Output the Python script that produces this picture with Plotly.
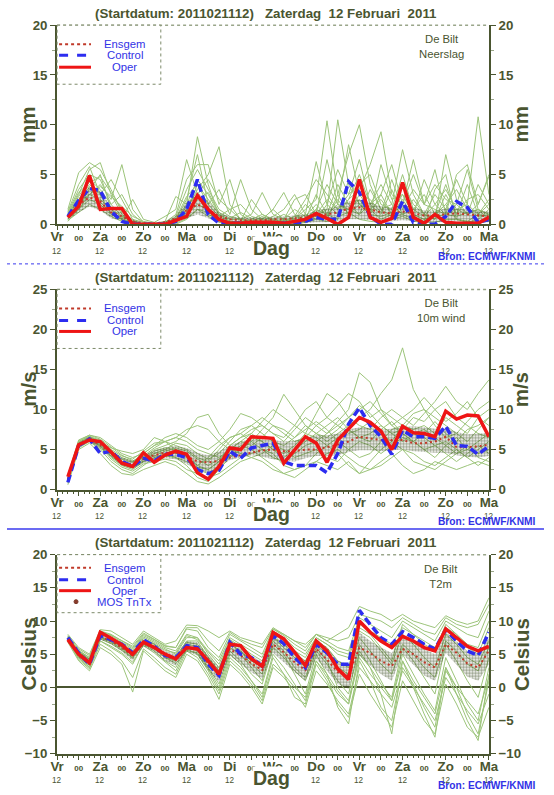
import plotly.graph_objects as go

# ---------------- data ----------------
hours = list(range(6, 241, 6))          # forecast step (h) after Vr 12 UTC
tick_hours = list(range(0, 241, 12))
days = ["Vr", "Za", "Zo", "Ma", "Di", "Wo", "Do", "Vr", "Za", "Zo", "Ma"]

# Precipitation (mm / 6h)
rr_oper = [0.7, 1.8, 4.9, 1.5, 1.6, 1.6, 0.0, 0.0, 0.0, 0.0, 0.4, 0.8, 2.9, 1.5, 0.5, 0.1, 0.1, 0.2, 0.2, 0.2,
           0.1, 0.3, 0.5, 1.1, 0.6, 0.0, 0.7, 4.5, 0.7, 0.2, 0.6, 4.2, 0.7, 0.1, 1.0, 0.2, 0.1, 0.1, 0.1, 0.7]
rr_ctrl = [0.8, 2.4, 3.6, 3.4, 1.3, 0.3, 0.0, 0.0, 0.0, 0.0, 0.3, 1.5, 4.5, 1.0, 0.1, 0.1, 0.1, 0.1, 0.1, 0.1,
           0.1, 0.1, 0.3, 0.7, 0.5, 0.5, 4.3, 3.2, 0.8, 0.0, 0.0, 2.3, 0.2, 0.0, 0.0, 0.8, 2.3, 1.7, 0.2, 0.5]
rr_mean = [0.8, 2.0, 2.7, 2.3, 1.2, 0.8, 0.3, 0.1, 0.1, 0.2, 0.6, 1.4, 2.0, 1.5, 0.8, 0.5, 0.4, 0.4, 0.4, 0.5,
           0.5, 0.6, 0.7, 0.9, 1.0, 1.2, 1.6, 1.7, 1.5, 1.2, 1.1, 1.3, 1.1, 0.9, 0.9, 1.0, 1.1, 1.0, 0.9, 0.8]
rr_p25 = [0.5, 1.2, 1.8, 1.4, 0.6, 0.3, 0.05, 0.0, 0.0, 0.0, 0.2, 0.6, 1.0, 0.6, 0.2, 0.1, 0.05, 0.05, 0.05, 0.1,
          0.1, 0.1, 0.1, 0.2, 0.2, 0.3, 0.5, 0.5, 0.4, 0.3, 0.3, 0.4, 0.3, 0.2, 0.2, 0.2, 0.3, 0.2, 0.2, 0.2]
rr_p75 = [1.1, 2.6, 3.8, 3.3, 1.8, 1.2, 0.5, 0.1, 0.1, 0.3, 0.9, 2.2, 3.2, 2.3, 1.2, 0.8, 0.7, 0.7, 0.7, 0.8,
          0.8, 0.9, 1.0, 1.4, 1.6, 1.8, 2.3, 2.5, 2.2, 1.8, 1.7, 2.0, 1.7, 1.4, 1.4, 1.6, 1.6, 1.5, 1.4, 1.3]
rr_members = [
    [1.0, 3.0, 5.5, 6.2, 3.0, 1.0, 0.2, 0.0, 0.0, 0.1, 0.5, 2.0, 8.8, 4.0, 0.8, 0.3, 0.2, 0.5, 1.0, 0.4,
     0.2, 0.5, 1.5, 2.5, 10.4, 3.0, 1.0, 2.0, 1.5, 0.5, 1.0, 2.5, 0.8, 0.3, 1.0, 2.0, 0.5, 0.3, 1.0, 0.8],
    [0.5, 2.0, 3.0, 4.0, 2.5, 6.0, 1.5, 0.2, 0.0, 0.0, 0.3, 1.5, 3.5, 5.0, 7.8, 2.0, 0.5, 0.3, 0.5, 1.5,
     3.2, 1.0, 0.5, 0.8, 1.5, 10.5, 4.0, 2.0, 1.0, 3.0, 6.0, 2.0, 1.0, 4.5, 2.0, 1.0, 1.5, 2.0, 10.8, 3.0],
    [1.5, 5.2, 6.2, 5.5, 3.5, 1.2, 0.3, 0.0, 0.0, 0.2, 1.0, 4.5, 6.0, 6.0, 2.0, 4.5, 1.0, 0.3, 0.2, 0.3,
     0.5, 2.5, 3.0, 1.0, 0.5, 3.0, 7.0, 10.0, 4.0, 1.5, 2.0, 7.5, 3.0, 1.0, 0.5, 7.0, 2.5, 1.0, 1.5, 0.5],
    [0.3, 1.5, 2.5, 2.0, 1.0, 0.5, 0.1, 0.0, 0.0, 0.0, 0.2, 1.0, 2.0, 1.5, 0.5, 0.3, 0.1, 0.1, 0.2, 0.3,
     0.2, 0.3, 1.0, 6.3, 2.0, 1.0, 2.5, 3.5, 6.0, 9.3, 3.0, 2.0, 5.0, 2.0, 5.5, 1.0, 5.0, 6.0, 2.0, 4.8],
    [0.8, 2.5, 4.0, 3.0, 4.5, 2.5, 0.5, 0.2, 0.1, 0.3, 2.8, 2.0, 4.5, 3.0, 1.0, 0.5, 0.5, 1.0, 3.2, 1.0,
     0.5, 0.2, 0.5, 1.5, 4.0, 2.0, 1.5, 1.0, 2.0, 3.0, 1.0, 4.0, 2.0, 1.0, 0.5, 3.0, 1.0, 4.0, 1.0, 2.0],
    [1.2, 3.5, 5.0, 4.5, 2.0, 0.8, 0.2, 0.0, 0.0, 0.0, 0.5, 2.5, 7.0, 2.0, 3.5, 1.0, 4.5, 1.5, 0.5, 0.2,
     0.1, 0.1, 0.3, 0.5, 2.0, 5.5, 3.0, 6.5, 2.0, 1.0, 3.5, 1.0, 0.5, 0.2, 3.5, 5.0, 0.5, 0.2, 0.5, 1.5],
    [0.6, 1.8, 3.5, 5.0, 1.5, 0.5, 2.5, 0.5, 0.2, 0.8, 1.5, 6.5, 3.0, 1.0, 0.5, 0.2, 0.3, 2.5, 1.0, 0.5,
     0.3, 0.8, 0.5, 3.0, 1.0, 0.5, 4.5, 2.0, 1.0, 6.0, 2.5, 3.0, 1.0, 0.5, 1.0, 2.0, 3.5, 1.5, 0.8, 1.0],
    [0.4, 1.2, 2.0, 1.5, 0.8, 0.3, 0.0, 0.0, 0.0, 0.0, 0.0, 0.5, 1.5, 0.8, 0.2, 0.0, 0.0, 0.0, 0.0, 0.0,
     0.0, 0.0, 0.2, 0.5, 0.3, 0.8, 1.2, 0.5, 0.3, 0.2, 0.5, 0.8, 0.3, 0.2, 0.2, 0.5, 0.5, 0.3, 0.2, 0.3],
    [0.9, 2.8, 4.5, 3.5, 2.0, 3.0, 1.0, 0.1, 0.0, 0.0, 0.8, 3.5, 5.5, 3.5, 1.5, 0.8, 0.5, 0.3, 0.2, 0.5,
     1.0, 0.5, 2.0, 1.0, 2.5, 1.5, 3.0, 4.0, 5.0, 2.0, 1.5, 5.0, 1.5, 3.0, 1.0, 4.0, 1.0, 2.5, 3.0, 1.5],
    [0.7, 2.2, 3.0, 2.5, 1.5, 0.8, 0.3, 0.0, 0.0, 0.1, 0.4, 1.8, 3.0, 4.5, 2.5, 1.5, 2.0, 0.8, 0.5, 1.5,
     0.5, 1.5, 0.8, 2.0, 0.8, 2.5, 1.0, 3.0, 2.5, 1.2, 4.5, 1.5, 3.5, 2.0, 4.0, 2.5, 2.0, 1.0, 2.0, 5.0],
    [1.3, 4.0, 5.8, 3.0, 1.0, 0.5, 0.2, 0.0, 0.0, 0.0, 0.2, 1.2, 4.0, 2.5, 1.0, 0.3, 0.1, 0.2, 0.8, 0.3,
     0.2, 0.5, 0.3, 1.0, 6.5, 2.0, 8.0, 3.0, 1.5, 2.5, 1.0, 2.0, 6.5, 2.0, 1.5, 1.0, 2.0, 5.5, 1.5, 1.0],
    [0.5, 1.5, 3.0, 3.8, 2.8, 1.8, 0.8, 0.3, 0.1, 0.2, 0.6, 2.8, 4.0, 2.0, 0.8, 1.5, 0.5, 0.2, 0.3, 0.8,
     1.5, 3.0, 1.0, 0.5, 1.0, 4.0, 2.0, 1.0, 3.5, 1.5, 0.8, 1.0, 2.5, 1.0, 3.0, 1.5, 4.5, 2.0, 1.0, 2.5],
    [1.1, 3.2, 4.2, 4.8, 3.2, 1.5, 0.4, 0.0, 0.0, 0.0, 0.3, 1.0, 2.5, 3.2, 1.2, 0.6, 1.2, 0.6, 0.2, 0.2,
     0.2, 0.8, 2.5, 4.5, 3.0, 1.5, 2.5, 5.0, 2.0, 4.0, 2.0, 1.0, 1.5, 0.8, 2.0, 3.5, 1.5, 1.0, 4.0, 2.0],
    [0.8, 2.0, 3.8, 2.2, 1.2, 0.6, 0.1, 0.0, 0.0, 0.0, 0.1, 0.6, 1.5, 1.2, 0.5, 0.2, 0.2, 0.4, 0.6, 0.2,
     0.4, 0.2, 0.6, 1.5, 1.0, 2.0, 1.5, 2.5, 1.0, 0.8, 1.2, 3.0, 1.0, 0.5, 0.8, 1.0, 0.8, 1.2, 1.5, 1.0],
]

# 10 m wind (m/s)
ff_oper = [1.6, 5.6, 6.2, 6.0, 4.7, 3.3, 2.9, 4.6, 3.4, 4.3, 4.8, 4.4, 2.1, 1.3, 2.9, 5.2, 5.0, 6.6, 6.5, 6.4,
           3.3, 5.0, 6.6, 5.8, 3.4, 6.2, 7.6, 9.0, 8.4, 7.3, 5.0, 7.9, 7.1, 7.0, 6.6, 9.8, 8.8, 9.3, 9.2, 6.6]
ff_ctrl = [0.9, 5.5, 6.3, 4.5, 4.8, 3.5, 2.9, 3.9, 3.6, 4.4, 4.4, 4.0, 2.5, 2.0, 2.4, 4.8, 3.9, 5.2, 5.5, 5.8,
           3.5, 3.0, 3.0, 3.0, 2.1, 4.5, 8.2, 10.2, 8.0, 6.6, 4.4, 7.4, 6.6, 6.6, 6.4, 7.9, 5.5, 5.4, 4.4, 5.4]
ff_mean = [1.3, 5.6, 6.3, 5.6, 4.5, 3.5, 3.1, 3.8, 4.3, 4.6, 4.6, 4.2, 3.5, 3.4, 3.6, 4.0, 4.3, 4.6, 4.9, 5.0,
           4.8, 4.8, 5.0, 5.0, 5.3, 5.6, 6.0, 6.6, 6.4, 6.2, 6.2, 6.2, 5.8, 5.8, 6.0, 6.6, 5.3, 5.3, 5.4, 5.6]
ff_p25 = [1.0, 5.3, 6.0, 5.2, 4.1, 3.0, 2.6, 3.3, 3.7, 3.9, 3.8, 3.2, 2.4, 2.1, 2.8, 3.7, 4.0, 4.3, 4.1, 3.8,
          3.6, 3.5, 3.9, 4.2, 4.2, 4.3, 4.7, 4.9, 4.9, 4.8, 4.9, 5.0, 4.8, 4.7, 4.6, 4.6, 4.3, 4.1, 4.0, 4.2]
ff_p75 = [1.6, 5.9, 6.6, 6.0, 4.9, 4.0, 3.6, 4.3, 4.9, 5.3, 5.4, 5.2, 4.6, 4.3, 4.8, 5.5, 6.0, 6.3, 6.3, 6.2,
          6.0, 6.1, 6.5, 6.8, 6.8, 7.0, 7.5, 7.8, 7.7, 7.5, 7.6, 7.8, 7.9, 7.8, 7.6, 7.6, 7.2, 6.9, 7.0, 7.1]
ff_members = [
    [1.2, 5.8, 6.6, 6.0, 4.5, 3.5, 3.0, 4.0, 5.0, 5.5, 6.0, 7.0, 9.0, 9.4, 7.0, 5.5, 6.5, 7.5, 8.0, 7.0,
     6.0, 7.5, 9.0, 8.0, 7.0, 8.5, 10.0, 14.6, 13.4, 10.0, 9.0, 8.0, 7.5, 8.0, 7.0, 9.0, 8.0, 7.0, 9.0, 8.0],
    [0.8, 5.2, 6.0, 5.0, 3.5, 2.5, 2.0, 3.0, 4.0, 4.5, 4.0, 3.0, 1.5, 1.0, 2.5, 4.0, 5.0, 6.0, 7.5, 9.0,
     11.9, 10.0, 8.0, 7.0, 6.0, 7.0, 8.0, 9.0, 10.0, 12.0, 13.7, 17.7, 12.5, 10.0, 9.0, 8.0, 7.0, 6.0, 7.5, 9.0],
    [1.8, 6.2, 6.8, 6.5, 5.5, 4.5, 4.0, 4.5, 5.5, 6.0, 5.5, 5.0, 4.0, 3.5, 5.0, 6.5, 7.0, 6.0, 5.0, 4.0,
     3.5, 4.5, 5.5, 6.0, 7.0, 8.0, 9.0, 8.0, 7.5, 9.0, 10.0, 9.0, 8.0, 9.5, 11.0, 12.9, 11.0, 10.0, 12.0, 13.7],
    [1.0, 5.5, 6.3, 5.5, 4.0, 3.0, 2.5, 3.5, 4.5, 5.0, 4.5, 4.0, 3.0, 2.5, 3.5, 4.5, 5.5, 5.0, 4.0, 3.0,
     2.0, 1.5, 2.5, 3.5, 4.5, 5.0, 4.0, 3.0, 2.5, 3.0, 4.0, 5.0, 4.5, 3.5, 3.0, 4.0, 5.0, 4.0, 3.0, 4.0],
    [1.4, 5.8, 6.5, 5.8, 4.8, 4.0, 3.5, 4.5, 5.5, 6.5, 7.0, 6.5, 5.5, 5.0, 6.0, 7.5, 9.5, 9.0, 8.0, 7.0,
     6.5, 8.0, 10.0, 11.0, 9.0, 10.5, 12.0, 11.0, 9.0, 10.0, 8.0, 7.0, 6.0, 7.0, 8.5, 7.0, 6.0, 7.5, 8.0, 9.0],
    [0.6, 5.0, 5.8, 4.5, 3.0, 2.0, 1.8, 2.5, 3.0, 3.5, 3.0, 2.0, 1.0, 0.7, 1.5, 2.5, 3.5, 4.0, 3.5, 2.5,
     2.0, 2.5, 3.0, 3.5, 3.0, 2.5, 3.5, 2.0, 2.5, 3.5, 4.5, 3.0, 2.0, 2.5, 3.5, 3.0, 2.5, 3.0, 3.5, 3.0],
    [1.6, 6.0, 6.7, 6.0, 5.2, 4.8, 4.5, 5.0, 6.5, 6.0, 5.0, 4.5, 3.0, 4.0, 5.5, 6.5, 7.0, 8.0, 9.0, 8.0,
     7.0, 6.0, 6.5, 8.0, 9.0, 8.0, 7.0, 7.5, 8.5, 7.0, 6.0, 8.0, 9.5, 10.0, 8.0, 6.5, 7.0, 8.5, 10.0, 11.0],
    [1.1, 5.4, 6.1, 5.2, 4.2, 3.2, 2.8, 3.8, 4.8, 5.2, 5.0, 4.2, 2.5, 2.0, 3.0, 4.2, 5.0, 6.5, 6.0, 5.0,
     4.5, 5.5, 7.0, 6.5, 5.5, 6.5, 7.5, 6.5, 6.0, 7.5, 8.5, 7.0, 6.0, 5.0, 4.0, 5.5, 6.5, 5.0, 4.5, 5.0],
    [1.3, 5.6, 6.4, 5.8, 4.6, 3.8, 3.4, 4.2, 5.2, 6.0, 6.5, 6.0, 5.0, 4.5, 4.0, 5.0, 6.0, 7.0, 8.5, 10.0,
     9.0, 8.0, 7.0, 9.5, 12.0, 11.0, 9.0, 10.0, 11.0, 9.5, 8.0, 9.0, 10.0, 11.5, 10.0, 8.5, 9.5, 11.0, 9.0, 10.0],
    [0.9, 5.3, 6.2, 5.4, 3.8, 2.8, 2.3, 3.2, 3.5, 3.8, 3.5, 2.5, 2.0, 1.5, 2.0, 3.0, 4.0, 4.5, 5.0, 4.5,
     3.0, 2.5, 3.0, 4.5, 5.5, 4.5, 3.0, 2.0, 3.5, 5.0, 6.0, 5.0, 3.5, 3.0, 2.5, 3.5, 4.5, 5.5, 4.0, 3.5],
    [1.5, 5.9, 6.6, 6.2, 5.0, 4.2, 3.8, 4.8, 5.8, 6.0, 6.5, 7.5, 8.0, 7.5, 6.0, 5.0, 6.0, 5.5, 6.5, 8.0,
     7.5, 6.5, 8.0, 7.0, 6.5, 7.5, 9.0, 10.5, 9.5, 8.0, 7.0, 7.5, 9.0, 8.5, 10.0, 11.0, 9.0, 8.0, 7.0, 6.5],
    [1.2, 5.6, 6.3, 5.6, 4.4, 3.4, 2.9, 3.6, 4.2, 4.8, 5.2, 4.8, 3.8, 3.0, 3.8, 5.0, 4.5, 4.0, 4.5, 5.5,
     5.0, 4.0, 4.5, 5.0, 4.0, 3.5, 5.0, 6.0, 5.5, 4.5, 5.5, 6.5, 6.0, 5.0, 5.5, 6.0, 5.0, 4.0, 5.0, 6.0],
    [1.0, 5.4, 6.2, 5.4, 4.2, 3.1, 2.7, 3.5, 4.0, 4.2, 4.0, 3.5, 2.8, 2.5, 3.5, 5.5, 6.5, 7.0, 6.0, 5.0,
     4.0, 5.0, 6.0, 7.0, 8.0, 9.0, 7.5, 6.5, 7.0, 8.0, 7.0, 6.0, 7.0, 7.5, 6.5, 5.5, 4.5, 5.0, 6.0, 7.0],
    [1.7, 6.1, 6.8, 6.3, 5.3, 4.3, 3.6, 4.0, 4.5, 5.0, 5.8, 5.5, 4.5, 3.8, 4.5, 6.0, 7.5, 8.0, 7.0, 6.0,
     5.5, 6.5, 7.5, 8.5, 7.5, 6.0, 5.0, 4.0, 4.5, 6.0, 7.5, 8.0, 7.0, 6.5, 5.5, 4.5, 3.5, 4.5, 5.5, 4.5],
]

# 2 m temperature (Celsius)
tt_oper = [7.2, 5.0, 3.7, 8.3, 7.4, 6.4, 5.0, 6.8, 6.0, 5.0, 4.3, 6.0, 5.8, 4.0, 2.0, 6.5, 6.3, 4.3, 3.2, 8.3,
           7.3, 5.3, 3.3, 7.0, 5.5, 2.8, 1.2, 10.0, 8.3, 7.0, 6.0, 7.7, 7.0, 6.0, 5.5, 8.8, 7.5, 6.2, 5.5, 6.2]
tt_ctrl = [7.5, 5.2, 3.5, 7.8, 7.2, 6.5, 5.2, 7.2, 6.2, 4.8, 4.5, 6.3, 6.0, 3.5, 1.8, 6.8, 5.0, 4.5, 3.2, 7.8,
           6.6, 4.5, 3.0, 6.5, 5.2, 3.5, 3.5, 11.6, 9.5, 7.5, 6.5, 8.4, 7.5, 6.5, 5.8, 8.7, 7.0, 5.5, 4.8, 8.3]
tt_mean = [7.4, 5.0, 3.8, 7.6, 7.0, 6.0, 4.8, 6.8, 6.0, 4.8, 4.2, 6.2, 5.8, 3.6, 1.9, 5.8, 4.8, 3.6, 2.6, 6.5,
           5.3, 3.8, 2.6, 5.8, 4.2, 2.3, 1.8, 6.0, 5.2, 4.0, 3.2, 5.8, 5.0, 3.8, 3.0, 6.5, 5.2, 3.6, 3.0, 5.5]
tt_p25 = [7.1, 4.5, 3.2, 7.2, 6.5, 5.4, 4.0, 6.2, 5.3, 4.0, 3.3, 5.4, 4.8, 2.6, 0.8, 4.8, 3.5, 2.3, 1.3, 5.2,
          3.8, 2.3, 1.0, 4.3, 2.5, 0.5, -0.2, 4.8, 3.3, 2.0, 1.0, 5.0, 3.4, 1.8, 1.0, 5.2, 3.4, 1.6, 1.0, 3.5]
tt_p75 = [7.7, 5.5, 4.3, 8.0, 7.5, 6.5, 5.5, 7.3, 6.6, 5.5, 5.0, 7.0, 6.8, 4.8, 3.0, 6.8, 6.0, 4.8, 3.8, 7.8,
          6.8, 5.3, 4.0, 7.3, 6.0, 4.0, 3.5, 8.3, 7.0, 6.0, 5.2, 8.0, 7.0, 5.8, 5.0, 8.3, 7.0, 5.5, 5.0, 7.5]
tt_members = [
    [8.0, 6.0, 5.0, 8.7, 8.5, 7.5, 6.5, 8.5, 7.5, 6.5, 7.0, 9.4, 9.3, 8.5, 7.5, 8.5, 7.5, 7.0, 6.5, 9.0,
     8.0, 7.0, 6.5, 8.0, 7.0, 8.0, 9.0, 12.2, 11.5, 11.0, 10.0, 11.0, 10.0, 9.5, 9.0, 10.8, 10.0, 9.5, 10.0, 13.5],
    [6.8, 4.0, 2.5, 6.0, 5.0, 3.5, -0.7, 5.5, 4.0, 2.5, 1.5, 5.0, 4.0, 1.5, -1.8, 3.5, 2.0, 0.0, -2.5, 3.0,
     1.5, -0.5, -3.0, 2.5, 0.5, -2.0, -4.0, 3.0, 1.0, -1.0, -3.0, 2.5, 0.0, -2.5, -5.0, 1.5, -1.0, -3.5, -5.5, -1.0],
    [7.3, 5.5, 4.5, 8.2, 7.8, 6.8, 5.8, 7.8, 7.0, 6.0, 5.5, 8.0, 7.5, 5.5, 4.0, 7.5, 6.5, 5.5, 4.5, 8.5,
     7.5, 6.0, 5.0, 7.5, 6.5, 5.0, 4.5, 9.0, 8.0, 6.0, 4.0, 9.5, 8.0, 6.5, 5.5, 9.5, 8.0, 6.0, 5.0, 9.0],
    [7.0, 4.5, 3.0, 7.0, 6.0, 5.0, 3.5, 6.5, 5.5, 4.0, 3.0, 6.0, 5.5, 3.0, 0.5, 5.5, 4.0, 2.0, 0.5, 6.0,
     4.5, 2.5, 1.0, 5.5, 3.5, 1.0, -1.0, 6.5, 4.0, 1.0, -2.0, 5.0, 2.0, -1.0, -3.5, 4.5, 1.0, -2.5, -5.0, 3.0],
    [7.6, 5.2, 4.0, 7.5, 6.8, 5.8, 4.5, 7.0, 6.5, 5.0, 4.5, 7.0, 7.0, 4.5, 2.5, 6.5, 5.5, 3.5, 2.0, 7.0,
     5.5, 3.0, 1.5, 6.0, 4.0, 0.0, -2.0, 5.0, 3.0, -1.0, -7.0, 4.0, 0.0, -4.0, -7.5, 3.0, -1.0, -5.0, -8.0, 2.0],
    [7.4, 4.8, 3.5, 7.5, 7.0, 6.2, 5.0, 7.0, 6.0, 4.5, 4.0, 6.5, 6.2, 4.0, 1.5, 6.0, 5.0, 3.0, 1.0, 6.5,
     5.0, 2.0, -1.0, 5.0, 2.0, -3.0, -5.5, 4.0, 1.0, -3.0, -5.0, 3.0, 0.5, -3.0, -6.0, 2.5, 0.0, -4.0, -7.0, 1.0],
    [7.8, 5.8, 4.8, 8.5, 8.0, 7.0, 6.0, 8.0, 7.2, 6.2, 6.0, 8.8, 8.5, 6.0, 4.5, 8.0, 7.0, 6.0, 5.0, 8.8,
     7.8, 6.5, 5.5, 8.0, 7.0, 6.0, 5.5, 10.5, 9.5, 8.5, 7.5, 10.0, 9.0, 8.0, 7.0, 10.0, 9.0, 8.0, 7.5, 11.5],
    [7.2, 4.6, 3.3, 7.3, 6.6, 5.6, 4.4, 6.6, 5.8, 4.5, 3.6, 5.6, 5.2, 2.8, 0.0, 5.0, 3.5, 1.0, -1.0, 5.0,
     3.0, 0.5, -2.0, 4.0, 1.5, -1.0, -2.5, 5.5, 3.0, 0.5, -1.5, 6.0, 4.0, 1.5, -1.0, 6.5, 4.0, 1.0, -1.5, 4.5],
    [7.5, 5.3, 4.2, 8.0, 7.6, 6.6, 5.6, 7.6, 6.8, 5.8, 5.0, 7.5, 7.5, 5.0, 3.0, 7.0, 6.0, 4.5, 3.0, 7.5,
     6.5, 5.0, 4.0, 7.0, 6.0, 4.0, 3.0, 8.5, 7.5, 5.5, 3.5, 8.0, 6.5, 4.5, 3.0, 8.0, 6.5, 4.5, 3.5, 7.0],
    [7.1, 4.4, 3.0, 7.0, 6.2, 5.2, 3.8, 6.3, 5.2, 3.8, 2.5, 5.8, 5.0, 2.5, -0.5, 4.5, 3.0, 1.0, -1.5, 4.5,
     2.0, -1.5, -2.5, 3.5, 1.0, -2.5, -4.5, 2.0, -1.0, -3.5, -6.0, 1.0, -2.0, -5.0, -7.0, 0.5, -2.5, -6.0, -7.5, -3.0],
    [7.7, 5.6, 4.5, 8.4, 7.9, 7.0, 6.2, 8.2, 7.3, 6.3, 6.0, 9.0, 9.0, 7.0, 5.5, 8.3, 7.2, 6.5, 6.0, 8.8,
     8.0, 7.0, 6.0, 8.0, 7.5, 7.0, 7.5, 11.0, 10.5, 10.0, 9.0, 10.5, 9.5, 8.5, 8.0, 10.5, 9.5, 9.0, 9.5, 12.5],
    [7.3, 5.0, 3.6, 7.6, 7.0, 6.0, 4.7, 6.9, 6.2, 4.9, 4.2, 6.8, 6.5, 4.5, 2.5, 6.5, 5.5, 4.0, 3.0, 7.5,
     6.0, 4.5, 3.0, 6.5, 5.0, 3.0, 2.0, 7.5, 5.5, 3.5, 2.0, 6.5, 5.0, 3.0, 1.5, 7.0, 5.5, 3.5, 2.5, 6.0],
    [7.0, 4.2, 2.8, 6.5, 5.5, 4.0, 1.5, 5.8, 4.5, 3.0, 2.0, 5.5, 4.5, 2.0, -1.0, 4.0, 2.5, 0.5, -2.0, 3.5,
     2.0, 0.0, -1.5, 4.0, 2.0, -0.5, -2.5, 4.5, 2.0, 0.0, -2.0, 4.0, 1.0, -1.5, -4.0, 3.0, 0.0, -2.0, -4.0, 1.5],
    [7.6, 5.4, 4.3, 8.1, 7.5, 6.3, 5.3, 7.4, 6.6, 5.6, 5.2, 7.8, 7.2, 5.3, 3.5, 7.2, 6.2, 5.0, 4.0, 8.0,
     7.0, 5.5, 4.5, 7.5, 6.5, 5.5, 5.0, 9.5, 8.5, 7.5, 6.5, 9.0, 8.0, 7.0, 6.0, 9.0, 8.0, 6.5, 6.0, 10.0],
]

# ---------------- style ----------------
# The viewer shows the page inside an 8 px frame and shrinks the result to the
# window size; positions below are reference pixels, converted by px()/py().
W, H = 554, 795
OFF = 8
SX = W / (W + 2 * OFF)
SY = H / (H + 2 * OFF)
FSC = 1 / ((SX + SY) / 2)   # font compensation
XL, XR = 58, 491
OLIVE = "#4a5530"
GREEN = "#9cc47a"
DARK = "#2a3c10"
RED = "#ee1515"
BLUE = "#2d2df0"
MEANC = "#c03a2a"
TXTBLUE = "#3232e6"
FONT = "Liberation Sans"


def px(x):
    return (x / SX - OFF) / W


def py(y):
    return 1 - (y / SY - OFF) / H


def fs(s):
    return round(s * FSC, 1)


panels = [
    dict(top=26, bot=225, rng=[0, 20], dt=5, unit="mm", label="Neerslag",
         oper=rr_oper, ctrl=rr_ctrl, mean=rr_mean, p25=rr_p25, p75=rr_p75, mem=rr_members, mos=False,
         leg=[45, 56, 68], box=59),
    dict(top=290, bot=490, rng=[0, 25], dt=5, unit="m/s", label="10m wind",
         oper=ff_oper, ctrl=ff_ctrl, mean=ff_mean, p25=ff_p25, p75=ff_p75, mem=ff_members, mos=False,
         leg=[309, 321, 332], box=59),
    dict(top=555, bot=754, rng=[-10, 20], dt=5, unit="Celsius", label="T2m",
         oper=tt_oper, ctrl=tt_ctrl, mean=tt_mean, p25=tt_p25, p75=tt_p75, mem=tt_members, mos=True,
         leg=[568, 580, 591, 602], box=58),
]

fig = go.Figure()
shapes = []
annotations = []

ticktext = []
for i, h in enumerate(tick_hours):
    if i % 2 == 0:
        ticktext.append(days[i // 2])
    else:
        ticktext.append("<span style='font-size:8px'>00</span>")

title_txt = "(Startdatum: 2011021112)\u00a0\u00a0\u00a0Zaterdag\u00a0\u00a012\u00a0Februari\u00a0\u00a02011"

for k, p in enumerate(panels, start=1):
    xa = "x" if k == 1 else f"x{k}"
    ya = "y" if k == 1 else f"y{k}"
    yr = f"y{k + 3}"
    for m in p["mem"]:
        fig.add_trace(go.Scatter(x=hours, y=m, xaxis=xa, yaxis=ya, mode="lines",
                                 line=dict(color=GREEN, width=1), showlegend=False, hoverinfo="skip"))
    fig.add_trace(go.Scatter(x=hours, y=p["p25"], xaxis=xa, yaxis=ya, mode="lines",
                             line=dict(width=0, color="rgba(0,0,0,0)"), showlegend=False, hoverinfo="skip"))
    fig.add_trace(go.Scatter(x=hours, y=p["p75"], xaxis=xa, yaxis=ya, mode="lines",
                             line=dict(width=0, color="rgba(0,0,0,0)"), fill="tonexty",
                             fillcolor="rgba(0,0,0,0)",
                             fillpattern=dict(shape=".", fgcolor=DARK, bgcolor="rgba(0,0,0,0)",
                                              size=3, solidity=0.55),
                             showlegend=False, hoverinfo="skip"))
    fig.add_trace(go.Scatter(x=hours, y=p["mean"], xaxis=xa, yaxis=ya, mode="lines", name="Ensgem",
                             line=dict(color=MEANC, width=2, dash="2px,3px"), showlegend=False))
    fig.add_trace(go.Scatter(x=hours, y=p["ctrl"], xaxis=xa, yaxis=ya, mode="lines", name="Control",
                             line=dict(color=BLUE, width=3.5, dash="8px,4px"), showlegend=False))
    fig.add_trace(go.Scatter(x=hours, y=p["oper"], xaxis=xa, yaxis=ya, mode="lines", name="Oper",
                             line=dict(color=RED, width=3.5), showlegend=False))
    fig.add_trace(go.Scatter(x=[None], y=[None], xaxis=xa, yaxis=yr, showlegend=False, hoverinfo="skip"))

    dom = [py(p["bot"]), py(p["top"])]
    common_y = dict(range=p["rng"], dtick=p["dt"], tick0=0, showline=True, linecolor=OLIVE, linewidth=2,
                    ticks="outside", ticklen=5, tickwidth=1, tickcolor=OLIVE, showgrid=False,
                    tickfont=dict(family=FONT, size=fs(13), color=OLIVE, weight="bold"),
                    minor=dict(dtick=p["dt"] / 2, ticks="outside", ticklen=3, tickcolor="#9aa68a"),
                    fixedrange=True, domain=dom)
    yname = "yaxis" if k == 1 else f"yaxis{k}"
    fig.layout[yname] = dict(common_y, anchor=xa, side="left",
                             zeroline=(k == 3), zerolinecolor=OLIVE, zerolinewidth=2)
    fig.layout[f"yaxis{k + 3}"] = dict(common_y, anchor=xa, side="right", overlaying=ya, zeroline=False)
    xname = "xaxis" if k == 1 else f"xaxis{k}"
    fig.layout[xname] = dict(domain=[px(XL), px(XR)], range=[0, 240], anchor=ya,
                             tickvals=tick_hours, ticktext=ticktext, showline=True, linecolor=OLIVE,
                             linewidth=2, ticks="outside", ticklen=4, tickcolor=OLIVE, showgrid=False,
                             zeroline=False, tickangle=0, ticklabelstandoff=-5,
                             tickfont=dict(family=FONT, size=fs(13), color=OLIVE, weight="bold"),
                             minor=dict(dtick=3, ticks="outside", ticklen=2, tickcolor=OLIVE),
                             fixedrange=True)
    shapes.append(dict(type="line", xref="paper", yref="paper", x0=px(XL), x1=px(XR),
                       y0=py(p["top"]), y1=py(p["top"]), line=dict(color="#9aa68a", width=1.5, dash="dot")))
    for i, h in enumerate(tick_hours):
        if i % 2 == 0:
            annotations.append(dict(x=h, y=py(p["bot"] + 27), xref=xa, yref="paper", text="12",
                                    showarrow=False, font=dict(family=FONT, size=fs(8), color=OLIVE),
                                    xanchor="center", yanchor="middle"))
    annotations.append(dict(x=px(267), y=py(p["top"] - 12), xref="paper", yref="paper", text=title_txt,
                            showarrow=False, font=dict(family=FONT, size=fs(13), color=OLIVE, weight="bold"),
                            xanchor="center", yanchor="middle"))
    annotations.append(dict(x=px(443), y=py(p["top"] + 6), xref="paper", yref="paper",
                            text="De Bilt<br>" + p["label"], showarrow=False, align="center",
                            font=dict(family=FONT, size=fs(11), color=OLIVE), xanchor="center", yanchor="top"))
    annotations.append(dict(x=px(273), y=py(p["bot"] + 24), xref="paper", yref="paper", text="Dag",
                            showarrow=False, font=dict(family=FONT, size=fs(19), color=OLIVE, weight="bold"),
                            xanchor="center", yanchor="middle", bgcolor="white", borderpad=0))
    annotations.append(dict(x=px(489), y=py(p["bot"] + 32), xref="paper", yref="paper",
                            text="Bron: ECMWF/KNMI", showarrow=False,
                            font=dict(family=FONT, size=fs(10), color=TXTBLUE, weight="bold"),
                            xanchor="center", yanchor="middle"))
    ymid = (p["top"] + p["bot"]) / 2
    for xx in (29, 523):
        annotations.append(dict(x=px(xx), y=py(ymid), xref="paper", yref="paper", text=p["unit"],
                                textangle=-90, showarrow=False,
                                font=dict(family=FONT, size=fs(20), color=OLIVE, weight="bold"),
                                xanchor="center", yanchor="middle"))
    top = p["top"]
    shapes.append(dict(type="rect", xref="paper", yref="paper", x0=px(58), x1=px(162),
                       y0=py(top), y1=py(top + p["box"]), line=dict(color="#7d8a6a", width=1, dash="dot"),
                       fillcolor="white"))
    names = ["Ensgem", "Control", "Oper"] + (["MOS TnTx"] if p["mos"] else [])
    styles = [dict(color=MEANC, width=2, dash="dot"), dict(color=BLUE, width=3, dash="dash"),
              dict(color=RED, width=3)]
    for j, nm in enumerate(names):
        yy = p["leg"][j]
        if j < 3:
            shapes.append(dict(type="line", xref="paper", yref="paper", x0=px(60), x1=px(92),
                               y0=py(yy), y1=py(yy), line=styles[j]))
        else:
            shapes.append(dict(type="circle", xref="paper", yref="paper", x0=px(75), x1=px(79),
                               y0=py(yy - 2), y1=py(yy + 2), line=dict(color="#7a3a2a", width=1),
                               fillcolor="#8a3a2a"))
        annotations.append(dict(x=px(126), y=py(yy), xref="paper", yref="paper", text=nm,
                                showarrow=False, font=dict(family=FONT, size=fs(11), color=TXTBLUE),
                                xanchor="center", yanchor="middle"))

shapes += [
    dict(type="line", xref="paper", yref="paper", x0=0, x1=1, y0=py(264.5), y1=py(264.5),
         line=dict(color="#3a3aee", width=1, dash="dot")),
    dict(type="line", xref="paper", yref="paper", x0=0, x1=1, y0=py(529.5), y1=py(529.5),
         line=dict(color="#3a3aee", width=1.5)),
]

fig.update_layout(width=W, height=H, margin=dict(l=0, r=0, t=0, b=0), paper_bgcolor="white",
                  plot_bgcolor="white", showlegend=False, shapes=shapes, annotations=annotations,
                  font=dict(family=FONT, color=OLIVE))

fig.write_html("out.html", config={"displayModeBar": False},
               post_script="document.body.style.margin='0px';document.body.style.overflow='hidden';")
